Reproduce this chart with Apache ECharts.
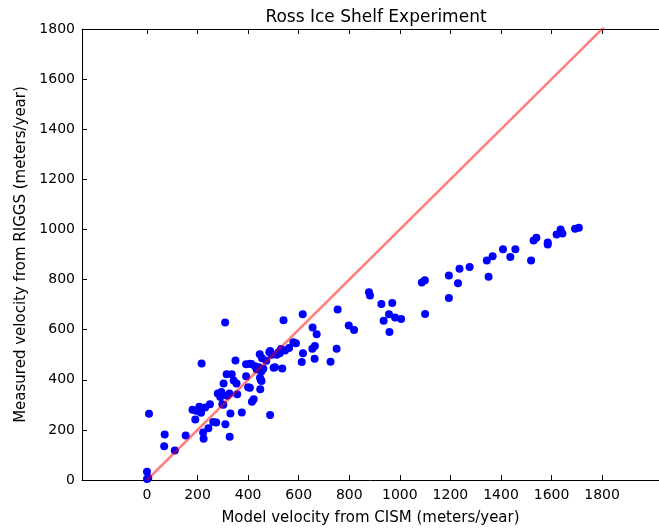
<!DOCTYPE html>
<html>
<head>
<meta charset="utf-8">
<script src="https://cdn.jsdelivr.net/npm/echarts@6/dist/echarts.min.js"></script>
<style>html,body{margin:0;padding:0;background:#fff}#c{width:659px;height:531px}</style>
</head>
<body>
<div id="c"></div>
<script>
var xTicks = [0, 200, 400, 600, 800, 1000, 1200, 1400, 1600, 1800];
var yTicks = [0, 200, 400, 600, 800, 1000, 1200, 1400, 1600, 1800];
var modelVel = [0,5,0,8,70,68,110,153,180,195,207,211,191,214,216,222,224,243,262,274,230,249,298,310,330,327,375,309,280,294,290,302,303,315,335,343,354,357,326,317,350,392,400,392,413,442,446,455,472,484,450,448,415,422,487,501,520,535,540,506,407,427,434,453,460,447,453,407,513,493,487,525,530,546,562,579,589,616,617,612,663,655,671,664,654,726,750,754,798,819,878,882,927,970,957,936,981,1005,959,1099,1087,1100,1194,1194,1230,1236,1276,1344,1367,1351,1408,1437,1457,1519,1529,1540,1585,1585,1620,1636,1643,1693,1708];
var measuredVel = [33,8,4,264,182,135,118,178,280,276,292,271,241,268,465,190,165,207,231,229,289,302,302,223,265,173,269,629,345,351,331,300,385,422,422,397,385,342,345,336,477,414,370,462,463,450,502,486,476,510,400,362,312,322,259,448,510,445,638,450,464,454,441,434,444,408,395,368,500,500,515,506,523,517,527,550,546,662,506,471,484,609,582,535,524,472,524,680,617,599,749,736,702,706,662,636,649,643,591,797,788,663,816,726,785,843,850,876,893,811,921,890,921,876,956,967,948,940,980,1000,984,1003,1007];
var lineX = [0, 2100];
var lineY = [0, 2100];

var pts = modelVel.map(function(v, i){ return [v, measuredVel[i]]; });
var linePts = lineX.map(function(v, i){ return [v, lineY[i]]; });

var font = 'DejaVu Sans';
var fmt = function(v){ return String(v); };
var chart = echarts.init(document.getElementById('c'), null, {renderer:'canvas'});
var axisLine = {show:true, onZero:false, lineStyle:{color:'#000', width:1}};
chart.setOption({
  animation:false,
  backgroundColor:'#fff',
  title:{text:'Ross Ice Shelf Experiment', left:371, top:4, textAlign:'center',
    textStyle:{fontFamily:font, fontSize:17, fontWeight:'normal', color:'#000'}},
  grid:{left:82, right:0, top:29, bottom:48, containLabel:false},
  xAxis:[{
    type:'value', min:-257, max:2025, position:'bottom',
    axisLine:axisLine,
    axisTick:{show:true, inside:true, length:5, customValues:xTicks, lineStyle:{color:'#000'}},
    axisLabel:{customValues:xTicks, formatter:fmt, fontFamily:font, fontSize:14, color:'#000', margin:8},
    splitLine:{show:false},
    name:'Model velocity from CISM (meters/year)', nameLocation:'middle', nameGap:31,
    nameTextStyle:{fontFamily:font, fontSize:15, color:'#000'}
  },{
    type:'value', min:-257, max:2025, position:'top',
    axisLine:axisLine,
    axisTick:{show:true, inside:true, length:5, customValues:xTicks, lineStyle:{color:'#000'}},
    axisLabel:{show:false}, splitLine:{show:false}
  }],
  yAxis:[{
    type:'value', min:0, max:1800, interval:200, position:'left',
    axisLine:axisLine,
    axisTick:{show:true, inside:true, length:5, lineStyle:{color:'#000'}},
    axisLabel:{formatter:fmt, fontFamily:font, fontSize:14, color:'#000', margin:7},
    splitLine:{show:false},
    name:'Measured velocity from RIGGS (meters/year)', nameLocation:'middle', nameGap:53, nameRotate:90,
    nameTextStyle:{fontFamily:font, fontSize:15, color:'#000'}
  },{
    type:'value', min:0, max:1800, interval:200, position:'right', show:false
  }],
  series:[{
    type:'scatter', data:pts, symbol:'circle', symbolSize:8,
    itemStyle:{color:'#0000ff', opacity:1}, z:2
  },{
    type:'line', data:linePts, symbol:'none', clip:true,
    lineStyle:{color:'rgba(255,0,0,0.5)', width:2.5}, z:3
  }]
});
</script>
</body>
</html>
